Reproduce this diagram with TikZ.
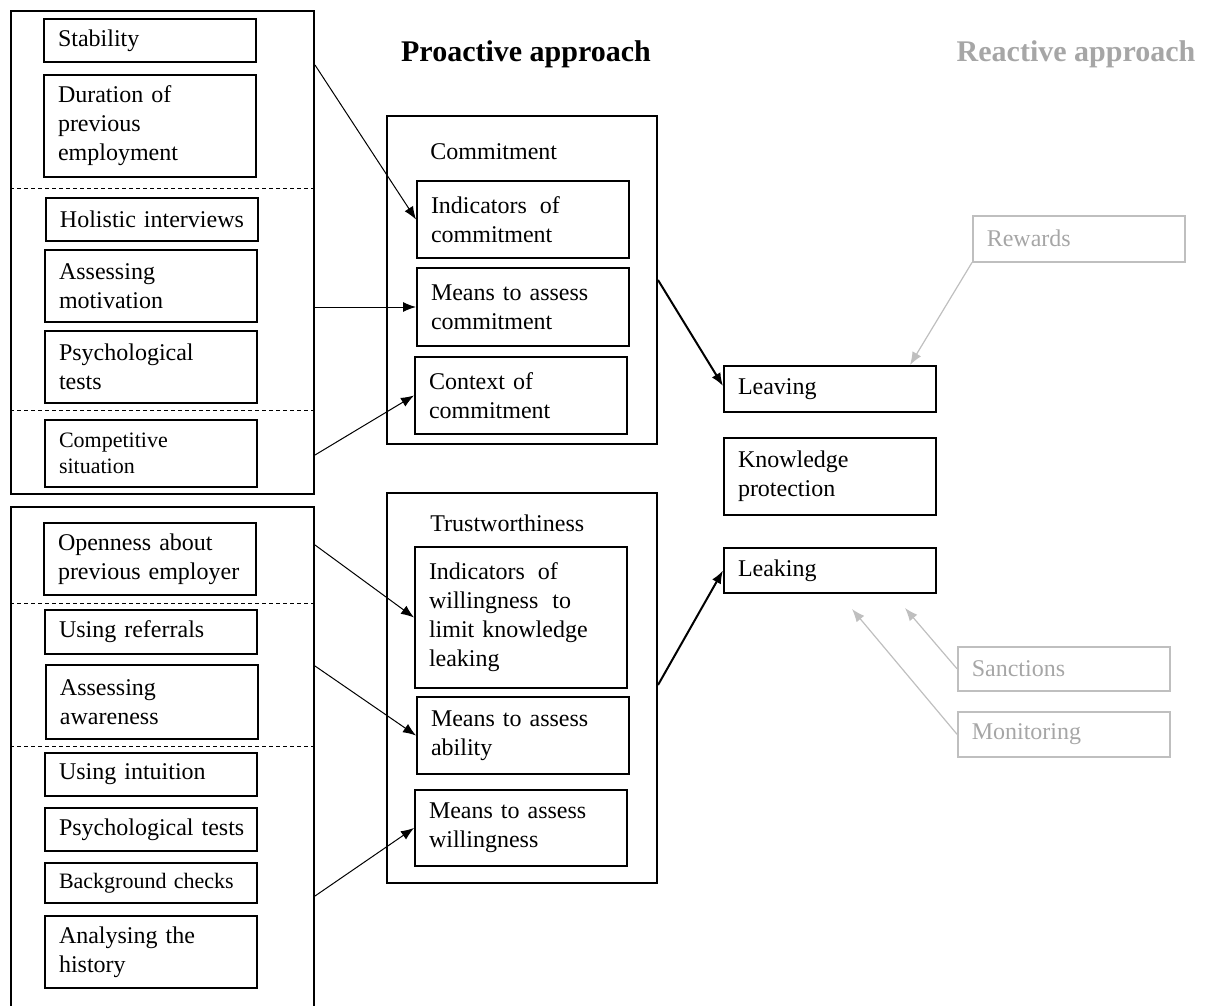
\documentclass[tikz,border=0pt]{standalone}
\usepackage{fontspec}
\setmainfont{Liberation Serif}
\usetikzlibrary{arrows.meta}
\definecolor{reactgray}{HTML}{A6A6A6}
\definecolor{reactline}{HTML}{BFBFBF}

\begin{document}
\begin{tikzpicture}[x=0.5pt,y=-0.5pt,
	font=\fontsize{12}{14.5}\selectfont,
	box/.style={draw,line width=1pt,anchor=north west,align=left,text width=92pt,inner xsep=7pt,inner ysep=2pt},
	grp/.style={draw,line width=1pt,anchor=north west,inner sep=0pt},
	rbox/.style={box,draw=reactline,line width=0.75pt,text=reactgray},
	divider/.style={line width=0.5pt,dash pattern=on 2pt off 1.5pt},
	link/.style={-{Latex[length=6.5pt,width=5pt]},line width=0.5pt},
	plink/.style={link,line width=1pt},
	glink/.style={link,draw=reactline,line width=0.6pt}
	]
	\useasboundingbox (0,0) rectangle (1211,1006);
	% titles
	\node[font=\fontsize{15}{18}\selectfont\bfseries] (proact) at (526,54) {Proactive approach};
	\node[font=\fontsize{15}{18}\selectfont\bfseries,text=reactgray] (react) at (1076,54) {Reactive approach};
	% commitment sources
	\node[grp,minimum width=151.5pt,minimum height=241.5pt] (grpA) at (10,10) {};
	\node[box,minimum height=21.5pt] (stab) at (43,18) {Stability};
	\node[box,minimum height=51pt] (dur) at (43,74) {Duration of\\previous\\employment};
	\node[box,minimum height=21.5pt] (holi) at (45,197) {Holistic interviews};
	\node[box,minimum height=36pt] (motiv) at (44,249) {Assessing\\motivation};
	\node[box,minimum height=36pt] (psyA) at (44,330) {Psychological\\tests};
	\node[box,minimum height=33.5pt,font=\fontsize{11}{13.3}\selectfont] (comp) at (44,419) {Competitive\\situation};
	\coordinate (dA1) at (0,189);
	\coordinate (dA2) at (0,410);
	\draw[divider] (grpA.west |- dA1) -- (grpA.east |- dA1);
	\draw[divider] (grpA.west |- dA2) -- (grpA.east |- dA2);
	% trustworthiness sources
	\node[grp,minimum width=151.5pt,minimum height=253pt] (grpB) at (10,506) {};
	\node[box,minimum height=36pt] (open) at (43,522) {Openness about\\previous employer};
	\node[box,minimum height=22pt] (refer) at (44,609) {Using referrals};
	\node[box,minimum height=37pt] (aware) at (45,664) {Assessing\\awareness};
	\node[box,minimum height=21.5pt] (intu) at (44,752) {Using intuition};
	\node[box,minimum height=21.5pt] (psyB) at (44,807) {\mbox{Psychological tests}};
	\node[box,minimum height=20pt,font=\fontsize{11}{13.3}\selectfont] (back) at (44,862) {Background checks};
	\node[box,minimum height=36pt] (hist) at (44,915) {Analysing the\\history};
	\coordinate (dB1) at (0,603);
	\coordinate (dB2) at (0,746);
	\draw[divider] (grpB.west |- dB1) -- (grpB.east |- dB1);
	\draw[divider] (grpB.west |- dB2) -- (grpB.east |- dB2);
	% commitment
	\node[grp,minimum width=135pt,minimum height=164pt] (cbox) at (386,115) {};
	\node[anchor=west,inner sep=0pt] (clabel) at (430,152) {Commitment};
	\node[box,minimum height=38.5pt] (indc) at (416,180) {Indicators\hspace{2.5pt} of\\commitment};
	\node[box,minimum height=39pt] (meanc) at (416,267) {Means to assess\\commitment};
	\node[box,minimum height=38.5pt] (ctx) at (414,356) {Context of\\commitment};
	% trustworthiness
	\node[grp,minimum width=135pt,minimum height=195pt] (tbox) at (386,492) {};
	\node[anchor=west,inner sep=0pt] (tlabel) at (430,523) {Trustworthiness};
	\node[box,minimum height=70.5pt] (indw) at (414,546) {Indicators\hspace{2.5pt} of\\willingness\hspace{3pt} to\\limit knowledge\\leaking};
	\node[box,minimum height=38.5pt] (abil) at (416,696) {Means to assess\\ability};
	\node[box,minimum height=38pt] (will) at (414,789) {Means to assess\\willingness};
	% outcomes
	\node[box,minimum height=23pt] (leave) at (723,365) {Leaving};
	\node[box,minimum height=38.5pt] (kprot) at (723,437) {Knowledge\\protection};
	\node[box,minimum height=22.5pt] (leak) at (723,547) {Leaking};
	% reactive measures
	\node[rbox,minimum height=23pt] (rew) at (972,215) {Rewards};
	\node[rbox,minimum height=22pt] (sanc) at (957,646) {Sanctions};
	\node[rbox,minimum height=22.5pt] (mon) at (957,711) {Monitoring};
	% connectors
	\draw[link] ([yshift=-27.5pt]grpA.north east) -- (indc.west);
	\draw[link] (grpA.east |- meanc.west) -- (meanc.west);
	\draw[link] ([yshift=20pt]grpA.south east) -- (ctx.west);
	\draw[link] ([yshift=-19.5pt]grpB.north east) -- (indw.west);
	\draw[link] ([yshift=-80pt]grpB.north east) -- (abil.west);
	\draw[link] ([yshift=-195pt]grpB.north east) -- (will.west);
	\draw[plink] ([yshift=-82.5pt]cbox.north east) -- ([yshift=1.5pt]leave.west);
	\draw[plink] ([yshift=-96.5pt]tbox.north east) -- (leak.west);
	\draw[glink] (rew.south west) -- ([xshift=-13.5pt]leave.north east);
	\draw[glink] (sanc.west) -- ([xshift=-16pt,yshift=-7pt]leak.south east);
	\draw[glink] (mon.west) -- ([xshift=-42.5pt,yshift=-7.5pt]leak.south east);
\end{tikzpicture}
\end{document}
